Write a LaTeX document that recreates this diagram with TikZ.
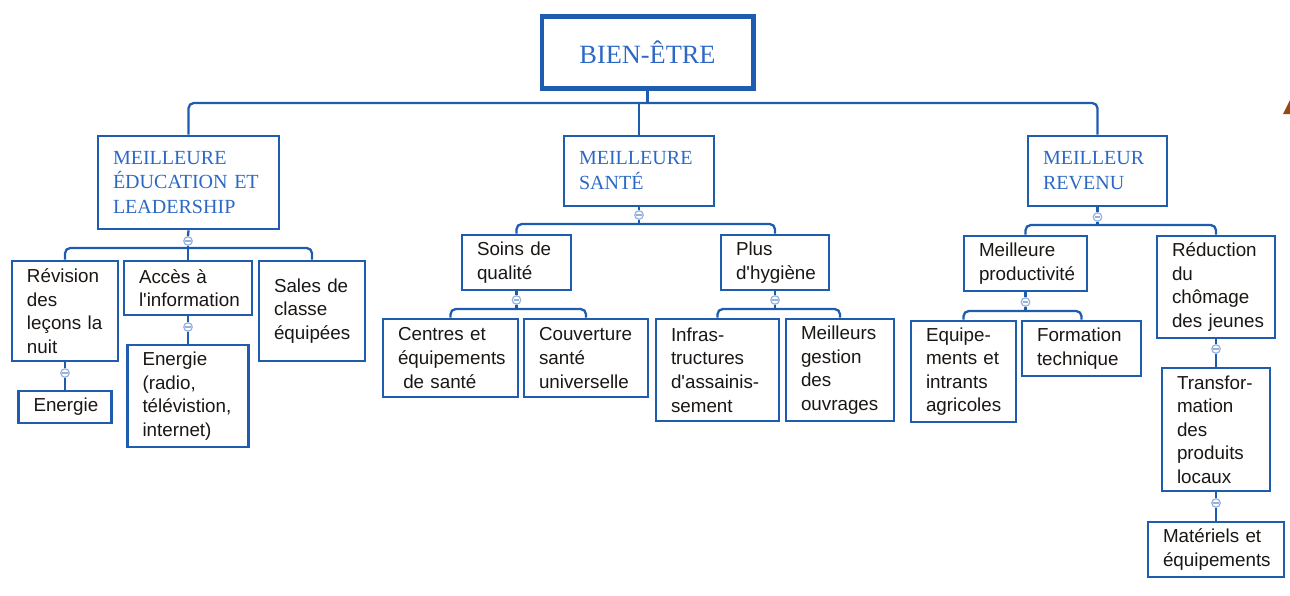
\documentclass[tikz,border=0pt]{standalone}
\usepackage{fontspec}
\setmainfont{Liberation Serif}
\newfontfamily\itemfont[Ligatures=TeXOff]{Liberation Sans}
\usepackage[]{xcolor}
\definecolor{boxblue}{RGB}{30,92,176}
\definecolor{headblue}{RGB}{44,104,196}
\definecolor{togglblue}{RGB}{150,178,222}
\definecolor{itemtext}{RGB}{26,22,20}
\definecolor{edgebrown}{RGB}{150,72,18}
\hyphenpenalty=10000
\exhyphenpenalty=10000

\begin{document}
\begin{tikzpicture}[
            x=0.02cm, y=-0.02cm,
            goal/.style={rectangle, draw=boxblue, line width=2.3pt, text=headblue, minimum width=4.24cm, minimum height=1.44cm, font=\fontsize{15}{18}\selectfont},
            axis/.style={rectangle, draw=boxblue, line width=1.5pt, text=headblue, align=left, inner sep=0pt, font=\fontsize{11.4}{14.2}\selectfont},
            item/.style={rectangle, draw=boxblue, line width=1.5pt, text=itemtext, align=left, inner sep=0pt, font=\itemfont\fontsize{10.7}{13.4}\selectfont},
            dims/.style 2 args={minimum width=#1*0.02cm, minimum height=#2*0.02cm, text width=#1*0.02cm-30*0.02cm},
            toggle/.style={circle, draw=togglblue, fill=white, line width=0.7pt, minimum size=0.17cm, inner sep=0pt,
                path picture={\draw[togglblue, line width=0.6pt] ([xshift=-1.6pt]path picture bounding box.center) -- ([xshift=1.6pt]path picture bounding box.center);}},
            link/.style={draw=boxblue, line width=1.3pt, rounded corners=3pt}
        ]
            \useasboundingbox (0,0) rectangle (1290,595);

            \node[goal] (wellbeing) at (647.5,52.5) {BIEN-ÊTRE};
            \node[axis, dims={181}{93}] (education) at (188.5,182.5) {MEILLEURE\\ÉDUCATION~ET\\LEADERSHIP};
            \node[axis, dims={150}{70}] (health) at (639,171) {MEILLEURE\\SANTÉ};
            \node[axis, dims={139}{70}] (income) at (1097.5,171) {MEILLEUR\\REVENU};

            \node[item, dims={106}{100}] (revision) at (65,311) {Révision\\des\\leçons~la\\nuit};
            \node[item, dims={128}{54}] (access) at (188,288) {Accès~à\\l'information};
            \node[item, dims={106}{100}] (classrooms) at (312,311) {Sales~de\\classe\\équipées};
            \node[item, dims={93}{32}] (energy) at (65,407) {Energie};
            \node[item, dims={121}{102}] (media) at (188,396) {Energie\\(radio,\\télévistion,\\internet)};

            \node[item, dims={109}{55}] (care) at (516.5,262.5) {Soins~de\\qualité};
            \node[item, dims={108}{55}] (hygiene) at (775,262.5) {Plus\\d'hygiène};
            \node[item, dims={135}{78}] (centres) at (450.5,358) {Centres~et\\équipements\\\hspace*{3pt}de~santé};
            \node[item, dims={124}{78}] (coverage) at (586,358) {Couverture\\santé\\universelle};
            \node[item, dims={123}{102}] (sanitation) at (717.5,370) {Infras-\\tructures\\d'assainis-\\sement};
            \node[item, dims={108}{102}] (works) at (840,370) {Meilleurs\\gestion\\des\\ouvrages};

            \node[item, dims={123}{55}] (productivity) at (1025.5,263.5) {Meilleure\\productivité};
            \node[item, dims={118}{102}] (jobs) at (1216,287) {Réduction\\du\\chômage\\des~jeunes};
            \node[item, dims={105}{101}] (inputs) at (963.5,371.5) {Equipe-\\ments~et\\intrants\\agricoles};
            \node[item, dims={119}{55}] (training) at (1081.5,348.5) {Formation\\technique};
            \node[item, dims={108}{123}] (processing) at (1216,429.5) {Transfor-\\mation\\des\\produits\\locaux};
            \node[item, dims={136}{55}] (equipment) at (1216,549.5) {Matériels~et\\équipements};

            \node[toggle] (education-tg) at (188,241) {};
            \node[toggle] (health-tg) at (639,215) {};
            \node[toggle] (income-tg) at (1097.5,217) {};
            \node[toggle] (revision-tg) at (65,373) {};
            \node[toggle] (access-tg) at (188,327) {};
            \node[toggle] (care-tg) at (516.5,300) {};
            \node[toggle] (hygiene-tg) at (775,300) {};
            \node[toggle] (productivity-tg) at (1025.5,302) {};
            \node[toggle] (jobs-tg) at (1216,349) {};
            \node[toggle] (processing-tg) at (1216,503) {};

            \coordinate (bus0) at (0,103);
            \coordinate (bus1) at (0,248);
            \coordinate (bus2) at (0,224);
            \coordinate (bus3) at (0,225);
            \coordinate (bus4) at (0,309);
            \coordinate (bus5) at (0,311);

            \draw[link] (wellbeing.south) -- (wellbeing.south |- bus0);
            \draw[link] (education.north) |- (wellbeing.south |- bus0) -| (income.north);
            \draw[link] (health.north) -- (health.north |- bus0);

            \draw[link] (education.south) -- (education-tg.north);
            \draw[link] (education-tg.south) -- (education-tg.south |- bus1);
            \draw[link] (revision.north) |- (education-tg.south |- bus1) -| (classrooms.north);
            \draw[link] (access.north) -- (access.north |- bus1);
            \draw[link] (revision.south) -- (revision-tg.north);
            \draw[link] (revision-tg.south) -- (energy.north);
            \draw[link] (access.south) -- (access-tg.north);
            \draw[link] (access-tg.south) -- (media.north);

            \draw[link] (health.south) -- (health-tg.north);
            \draw[link] (health-tg.south) -- (health-tg.south |- bus2);
            \draw[link] (care.north) |- (health-tg.south |- bus2) -| (hygiene.north);
            \draw[link] (care.south) -- (care-tg.north);
            \draw[link] (care-tg.south) -- (care-tg.south |- bus4);
            \draw[link] (centres.north) |- (care-tg.south |- bus4) -| (coverage.north);
            \draw[link] (hygiene.south) -- (hygiene-tg.north);
            \draw[link] (hygiene-tg.south) -- (hygiene-tg.south |- bus4);
            \draw[link] (sanitation.north) |- (hygiene-tg.south |- bus4) -| (works.north);

            \draw[link] (income.south) -- (income-tg.north);
            \draw[link] (income-tg.south) -- (income-tg.south |- bus3);
            \draw[link] (productivity.north) |- (income-tg.south |- bus3) -| (jobs.north);
            \draw[link] (productivity.south) -- (productivity-tg.north);
            \draw[link] (productivity-tg.south) -- (productivity-tg.south |- bus5);
            \draw[link] (inputs.north) |- (productivity-tg.south |- bus5) -| (training.north);
            \draw[link] (jobs.south) -- (jobs-tg.north);
            \draw[link] (jobs-tg.south) -- (processing.north);
            \draw[link] (processing.south) -- (processing-tg.north);
            \draw[link] (processing-tg.south) -- (equipment.north);

            \fill[edgebrown] (1283,114) -- (1290,100) -- (1290,114) -- cycle;
        \end{tikzpicture}
\end{document}
